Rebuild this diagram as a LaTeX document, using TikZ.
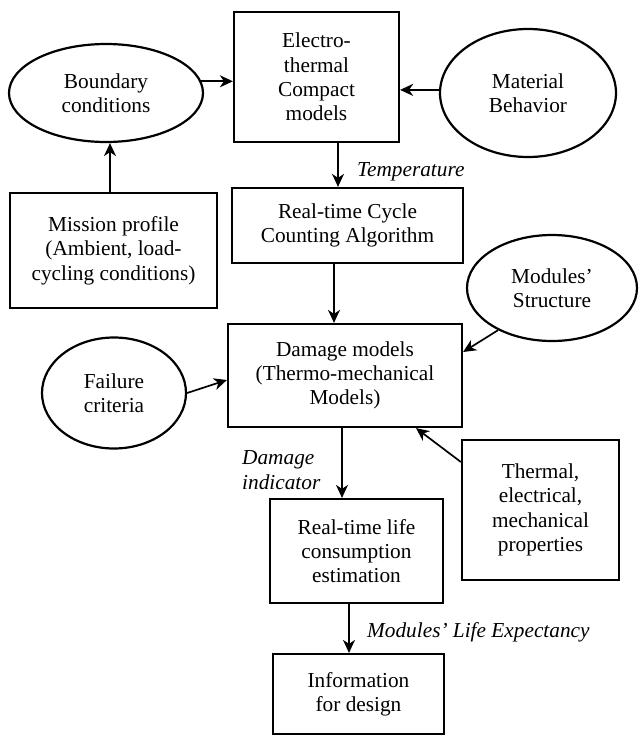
\documentclass[tikz,border=0pt]{standalone}
\usepackage{fontspec}
\setmainfont{Liberation Serif}
\usetikzlibrary{shapes.geometric,arrows.meta}
\begin{document}
\begin{tikzpicture}[x=1pt,y=-1pt,
  txt/.style={font=\fontsize{21.3}{24.3}\selectfont},
  box/.style={txt, draw, line width=2.2pt, rectangle, inner sep=0pt, align=center},
  ell/.style={txt, draw, line width=2.2pt, ellipse, inner sep=0pt, align=center},
  arr/.style={-{Stealth[length=13pt,width=12pt,inset=4pt]}, line width=1.7pt},
  lbl/.style={font=\fontsize{21.3}{24.3}\selectfont\itshape, inner sep=0pt, align=left}]
\useasboundingbox (0,0) rectangle (639,736);
% nodes
\node[box, minimum width=165pt, minimum height=130pt] (elec) at (316.5,77) {Electro-\\thermal\\Compact\\models};
\node[ell, minimum width=194pt, minimum height=98pt] (bnd) at (106,93) {Boundary\\conditions};
\node[ell, minimum width=176pt, minimum height=128pt] (mat) at (528,93) {Material\\Behavior};
\node[box, minimum width=231pt, minimum height=75pt] (cyc) at (347.5,225.5) {Real-time Cycle\\Counting Algorithm};
\node[box, minimum width=207pt, minimum height=115pt] (mis) at (113.5,250.5) {Mission profile\\(Ambient, load-\\cycling conditions)};
\node[box, minimum width=234pt, minimum height=103pt] (dmg) at (345,375.5) {Damage models\\(Thermo-mechanical\\Models)};
\node[ell, minimum width=170pt, minimum height=106pt] (mod) at (552,288) {Modules’\\Structure};
\node[ell, minimum width=144pt, minimum height=111pt] (fail) at (114,393) {Failure\\criteria};
\node[box, minimum width=157pt, minimum height=140pt] (thm) at (540.5,510) {Thermal,\\electrical,\\mechanical\\properties};
\node[box, minimum width=173pt, minimum height=104pt] (life) at (356.5,551) {Real-time life\\consumption\\estimation};
\node[box, minimum width=171pt, minimum height=80pt] (info) at (358.5,694) {Information\\for design};
% connectors
\draw[arr] (bnd.7) -- (bnd.7 -| elec.west);
\draw[arr] (mat.178) -- (mat.178 -| elec.east);
\coordinate (t1) at ([xshift=-9.5pt]cyc.north);
\draw[arr] (t1 |- elec.south) -- (t1);
\node[lbl, anchor=west] (temp) at (357,172) {Temperature};
\coordinate (t2) at ([xshift=-3.5pt]mis.north);
\draw[arr] (t2) -- (t2 |- bnd.south);
\coordinate (t3) at ([xshift=-11pt]dmg.north);
\draw[arr] (t3 |- cyc.south) -- (t3);
\draw[arr] (mod.218) -- ([yshift=23.5pt]dmg.east);
\draw[arr] (fail.east) -- ([yshift=-4.5pt]dmg.west);
\draw[arr] ([yshift=48pt]thm.west) -- ([xshift=71pt]dmg.south);
\coordinate (t4) at ([xshift=-14.5pt]life.north);
\draw[arr] (t4 |- dmg.south) -- (t4);
\node[lbl, anchor=west] (dind) at (242,470) {Damage\\indicator};
\coordinate (t5) at ([xshift=-9.5pt]info.north);
\draw[arr] (t5 |- life.south) -- (t5);
\node[lbl, anchor=west] (mle) at (367,632) {Modules’ Life Expectancy};
\end{tikzpicture}
\end{document}
